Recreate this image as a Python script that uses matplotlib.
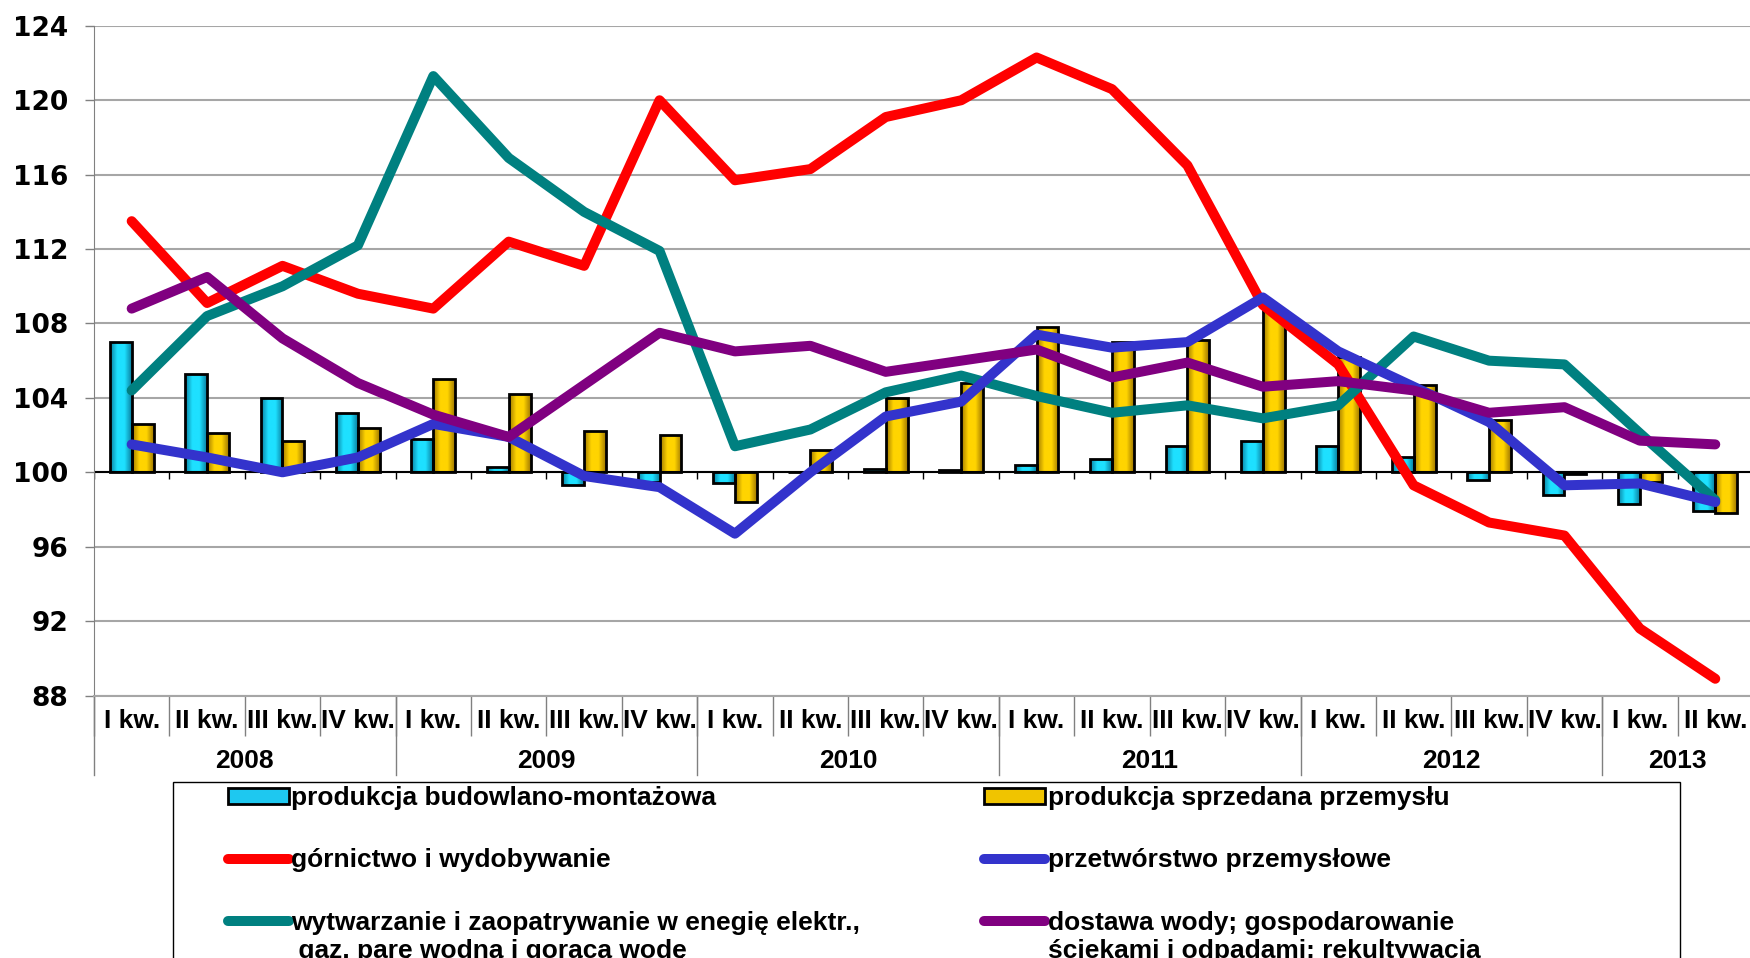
import numpy as np
import matplotlib.pyplot as plt
import matplotlib.colors as mcolors
from matplotlib.lines import Line2D
from matplotlib.patches import Patch, Rectangle

plt.rcParams['font.family'] = ['Liberation Sans', 'DejaVu Sans']
plt.rcParams['font.weight'] = 'bold'

quarters = ["I kw.", "II kw.", "III kw.", "IV kw."] * 5 + ["I kw.", "II kw."]
years = ["2008", "2009", "2010", "2011", "2012", "2013"]
year_len = [4, 4, 4, 4, 4, 2]

budowlana = [107.0, 105.3, 104.0, 103.2, 101.8, 100.3, 99.3, 99.5, 99.4, 100.0, 100.2,
             100.1, 100.4, 100.7, 101.4, 101.7, 101.4, 100.8, 99.6, 98.8, 98.3, 97.9]
sprzedana = [102.6, 102.1, 101.7, 102.4, 105.0, 104.2, 102.2, 102.0, 98.4, 101.2, 104.0,
             104.8, 107.8, 107.0, 107.1, 108.7, 106.2, 104.7, 102.8, 99.9, 99.5, 97.8]
gornictwo = [113.5, 109.1, 111.1, 109.6, 108.8, 112.4, 111.1, 120.0, 115.7, 116.3, 119.1,
             120.0, 122.3, 120.6, 116.5, 109.0, 105.8, 99.3, 97.3, 96.6, 91.6, 88.9]
przetworstwo = [101.5, 100.8, 100.0, 100.8, 102.6, 101.9, 99.8, 99.2, 96.7, 100.0, 103.0,
                103.8, 107.4, 106.7, 107.0, 109.4, 106.5, 104.6, 102.7, 99.3, 99.4, 98.4]
energia = [104.4, 108.4, 110.0, 112.2, 121.3, 116.9, 114.0, 111.9, 101.4, 102.3, 104.3,
           105.2, 104.1, 103.2, 103.6, 102.9, 103.6, 107.3, 106.0, 105.8, 102.1, 98.5]
woda = [108.8, 110.5, 107.2, 104.8, 103.1, 101.9, 104.7, 107.5, 106.5, 106.8, 105.4,
        106.0, 106.6, 105.1, 105.9, 104.6, 104.9, 104.4, 103.2, 103.5, 101.7, 101.5]

lab_bud = "produkcja budowlano-montażowa"
lab_sprz = "produkcja sprzedana przemysłu"
lab_gor = "górnictwo i wydobywanie"
lab_prz = "przetwórstwo przemysłowe"
lab_en = ["wytwarzanie i zaopatrywanie w enegię elektr.,", " gaz, parę wodną i gorącą wodę"]
lab_woda = ["dostawa wody; gospodarowanie", "ściekami i odpadami; rekultywacja"]

fig = plt.figure(figsize=(17.5, 9.58), dpi=100)
ax = fig.add_axes([0.0537, 0.274, 0.948, 0.699])

x = np.arange(len(quarters))
w = 0.29


def shade(bars, dark, light):
    cmap = mcolors.LinearSegmentedColormap.from_list('g', [dark, light, light, dark])
    grad = np.linspace(0, 1, 64).reshape(1, -1)
    for b in bars:
        x0 = b.get_x()
        y0 = min(b.get_y(), b.get_y() + b.get_height())
        y1 = max(b.get_y(), b.get_y() + b.get_height())
        im = ax.imshow(grad, cmap=cmap, extent=[x0, x0 + b.get_width(), y0, y1],
                       aspect='auto', zorder=2, interpolation='bilinear')
        im.set_clip_path(b)


b1 = ax.bar(x - w / 2, np.array(budowlana) - 100, w, bottom=100,
            facecolor='none', edgecolor='black', linewidth=2, zorder=3)
b2 = ax.bar(x + w / 2, np.array(sprzedana) - 100, w, bottom=100,
            facecolor='none', edgecolor='black', linewidth=2, zorder=3)
shade(b1, '#0a7fa0', '#1ee0ff')
shade(b2, '#a07800', '#ffd400')

lw = 7.2
kw = dict(lw=lw, solid_capstyle='round', solid_joinstyle='round')
ax.plot(x, gornictwo, color='#ff0000', zorder=4, **kw)
ax.plot(x, przetworstwo, color='#3333cc', zorder=5, **kw)
ax.plot(x, energia, color='#008080', zorder=4.5, **kw)
ax.plot(x, woda, color='#800080', zorder=6, **kw)

# axes & grid
ax.set_xlim(-0.5, len(quarters) - 0.5)
ax.set_ylim(88, 124)
ax.set_yticks(np.arange(88, 125, 4))
ax.yaxis.grid(True, color='#a6a6a6', lw=1.5)
ax.set_axisbelow(True)
ax.tick_params(axis='y', length=6.5, width=1, color='#808080', pad=12)
for t in ax.get_yticklabels():
    t.set_fontfamily('DejaVu Sans')
    t.set_fontsize(19)
for s in ['top', 'right']:
    ax.spines[s].set_visible(False)
ax.spines['left'].set_color('#808080')
ax.spines['bottom'].set_color('#a6a6a6')
ax.spines['bottom'].set_linewidth(1.5)

bounds = np.arange(-0.5, len(quarters), 1)
ax.set_xticks(bounds)
ax.set_xticklabels([])
ax.set_xticks(x, quarters, minor=True)
ax.tick_params(axis='x', which='major', length=29, color='#808080', width=1)
ax.tick_params(axis='x', which='minor', length=0, labelsize=19, pad=10)

# line at 100 with small ticks
ax.axhline(100, color='black', lw=1.5, zorder=2.5)
ax.vlines(bounds, 99.62, 100, color='black', lw=1, zorder=2.5)

# year groups
start = -0.5
for yr, n in zip(years, year_len):
    ax.plot([start, start], [0, -0.1187], transform=ax.get_xaxis_transform(),
            clip_on=False, color='#808080', lw=1)
    ax.text(start + n / 2, -0.098, yr, transform=ax.get_xaxis_transform(),
            ha='center', va='center', fontsize=19)
    start += n
ax.plot([start, start], [0, -0.1187], transform=ax.get_xaxis_transform(),
        clip_on=False, color='#808080', lw=1)

# legend
handles = [
    Patch(facecolor='#1ec8f0', edgecolor='black', lw=2),
    Line2D([], [], color='#ff0000', lw=lw, solid_capstyle='round'),
    Line2D([], [], color='#008080', lw=lw, solid_capstyle='round'),
    Patch(facecolor='#f0c400', edgecolor='black', lw=2),
    Line2D([], [], color='#3333cc', lw=lw, solid_capstyle='round'),
    Line2D([], [], color='#800080', lw=lw, solid_capstyle='round'),
]
labels = [lab_bud, lab_gor, lab_en[0], lab_sprz, lab_prz, lab_woda[0]]
leg = fig.legend(handles, labels, ncol=2, loc='upper left',
                 bbox_to_anchor=(0.1303, 0.1795), frameon=False, fontsize=19,
                 handlelength=2.3, handleheight=0.55, handletextpad=0.1,
                 columnspacing=4.7, labelspacing=1.45, borderpad=0, borderaxespad=0)

fig.add_artist(Rectangle((0.0989, -0.02), 0.861, 0.2037, transform=fig.transFigure,
                         fill=False, edgecolor='black', lw=1))

fig.canvas.draw()
r = fig.canvas.get_renderer()
inv = fig.transFigure.inverted()
for t, extra in zip([leg.get_texts()[2], leg.get_texts()[5]], [lab_en[1], lab_woda[1]]):
    bb = t.get_window_extent(r).transformed(inv)
    fig.text(bb.x0, (bb.y0 + bb.y1) / 2 - 28 / 958, extra, ha='left', va='center',
             fontsize=19)

fig.savefig('out.png', dpi=100)
